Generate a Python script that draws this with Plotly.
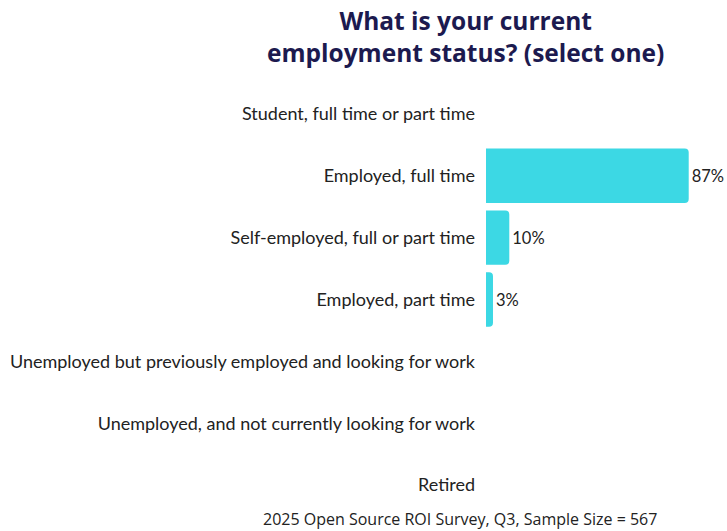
import plotly.graph_objects as go

categories = [
    "Student, full time or part time",
    "Employed, full time",
    "Self-employed, full or part time",
    "Employed, part time",
    "Unemployed but previously employed and looking for work",
    "Unemployed, and not currently looking for work",
    "Retired",
]
shares = [0, 87, 10, 3, 0, 0, 0]

labels = [f"{v}%" if v > 0 else "" for v in shares]

W, H = 727, 531
L, R, T, B = 486, 8, 83, 15
plot_w = W - L - R
plot_h = H - T - B


def px_to_paper(px, py):
    """Convert a pixel position in the page to paper coordinates."""
    return (px - L) / plot_w, (H - B - py) / plot_h


fig = go.Figure(
    go.Bar(
        x=shares,
        y=categories,
        orientation="h",
        marker=dict(color="#3cd8e4", cornerradius=4, line=dict(width=0)),
        text=labels,
        textposition="outside",
        textfont=dict(family="Lato", size=16.5, color="#222222"),
        cliponaxis=False,
        width=0.88,
    )
)

tx, ty = px_to_paper(465, 36)
fx, fy = px_to_paper(460, 519)

fig.update_layout(
    width=W,
    height=H,
    margin=dict(l=L, r=R, t=T, b=B),
    paper_bgcolor="white",
    plot_bgcolor="white",
    showlegend=False,
    xaxis=dict(range=[0, 100], visible=False, fixedrange=True),
    yaxis=dict(
        autorange="reversed",
        showgrid=False,
        showline=False,
        zeroline=False,
        ticks="",
        ticklabelstandoff=10,
        tickfont=dict(family="Lato", size=18, color="#222222"),
    ),
    annotations=[
        dict(
            text="<b>What is your current<br>employment status? (select one)</b>",
            x=tx,
            y=ty,
            xref="paper",
            yref="paper",
            xanchor="center",
            yanchor="middle",
            align="center",
            showarrow=False,
            font=dict(family="Open Sans", size=24.5, color="#1c1a4f"),
        ),
        dict(
            text="2025 Open Source ROI Survey, Q3, Sample Size = 567",
            x=fx,
            y=fy,
            xref="paper",
            yref="paper",
            xanchor="center",
            yanchor="middle",
            showarrow=False,
            font=dict(family="Open Sans", size=16, color="#222222"),
        ),
    ],
)

fig.write_html("out.html")
